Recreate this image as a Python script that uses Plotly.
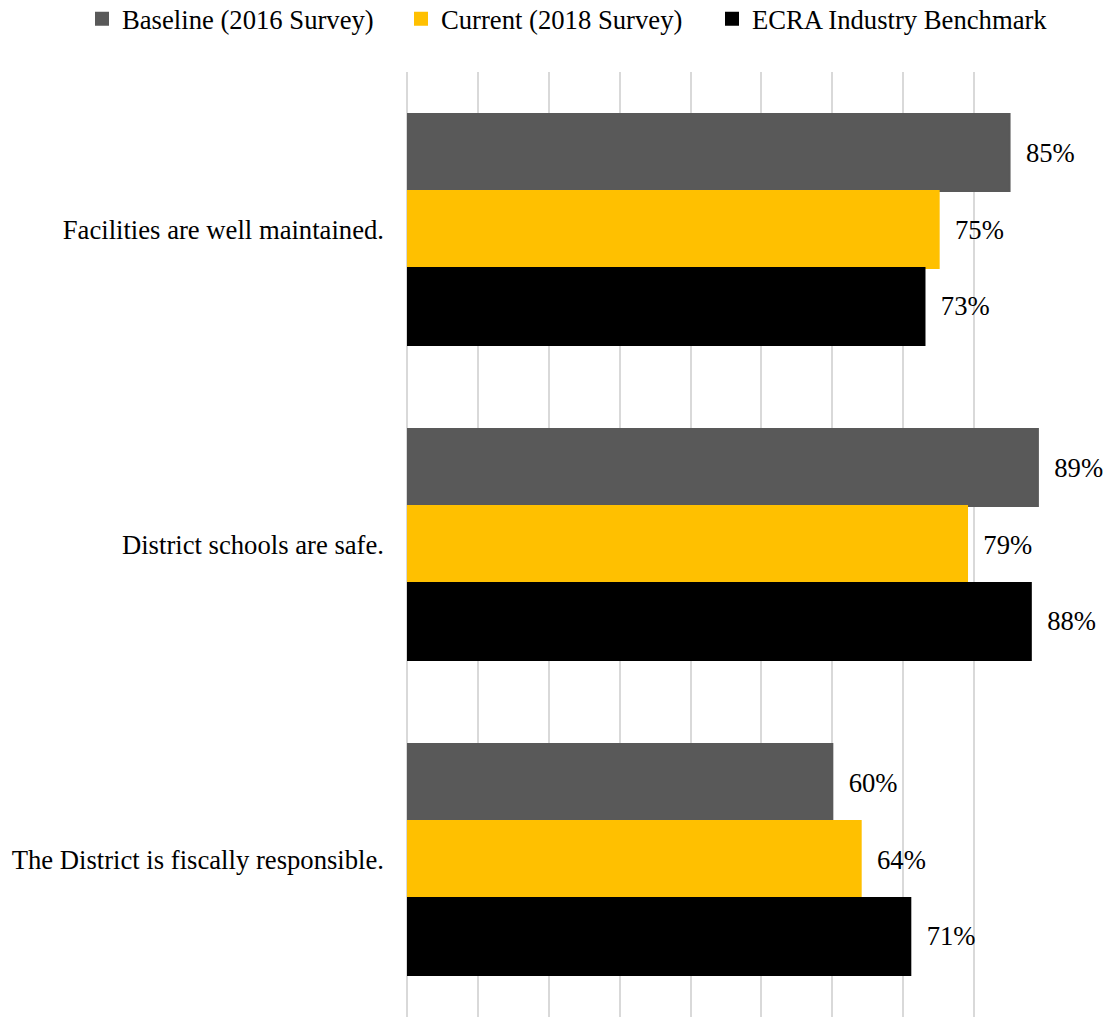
import plotly.graph_objects as go

categories = ["Facilities are well maintained.", "District schools are safe.", "The District is fiscally responsible."]
series_names = ["Baseline (2016 Survey)", "Current (2018 Survey)", "ECRA Industry Benchmark"]
baseline = [85, 89, 60]
current = [75, 79, 64]
benchmark = [73, 88, 71]
colors = ["#595959", "#FFC000", "#000000"]

FONT = "Liberation Serif, Times New Roman, serif"
FS = 26.67

W, H = 1108, 1017
L, T, B = 407, 72, 0
plot_w = 638
R = W - L - plot_w
plot_h = H - T - B

legend_ids = ["legend", "legend2", "legend3"]
legend_left_px = [82, 401, 712]  # px of each legend box's left edge

fig = go.Figure()
for name, vals, col, lid in zip(series_names, [baseline, current, benchmark], colors, legend_ids):
    fig.add_trace(go.Bar(
        y=categories, x=vals, name=name, orientation="h",
        marker=dict(color=col, line=dict(width=2, color=col)),
        texttemplate="  %{x}%", textposition="outside",
        textfont=dict(family=FONT, size=FS, color="#000000"),
        cliponaxis=False, hoverinfo="skip", legend=lid,
    ))

legend_y = 1 + (T - 19) / plot_h
leg_common = dict(orientation="h", xref="paper", yref="paper", xanchor="left",
                  y=legend_y, yanchor="middle", itemwidth=30,
                  font=dict(family=FONT, size=FS, color="#000000"),
                  bgcolor="rgba(0,0,0,0)", borderwidth=0)

layout_legends = {}
for lid, lx in zip(legend_ids, legend_left_px):
    layout_legends[lid] = dict(leg_common, x=(lx - L) / plot_w)

fig.update_layout(
    width=W, height=H,
    margin=dict(l=L, r=R, t=T, b=B, autoexpand=False),
    paper_bgcolor="white", plot_bgcolor="white",
    barmode="group", bargap=0.267, bargroupgap=0,
    font=dict(family=FONT, size=FS, color="#000000"),
    showlegend=True,
    xaxis=dict(range=[0, 90], dtick=10, showticklabels=False, showgrid=True,
               gridcolor="#D9D9D9", gridwidth=2, zeroline=True,
               zerolinecolor="#D9D9D9", zerolinewidth=2, showline=False,
               automargin=False),
    yaxis=dict(autorange="reversed", showgrid=False, showline=False,
               ticks="", ticklabelstandoff=22, automargin=False,
               tickfont=dict(family=FONT, size=FS, color="#000000")),
    **layout_legends,
)

fig.write_html("out.html",
               config={"displayModeBar": False},
               post_script="document.body.style.margin='0';document.body.style.overflow='hidden';")
